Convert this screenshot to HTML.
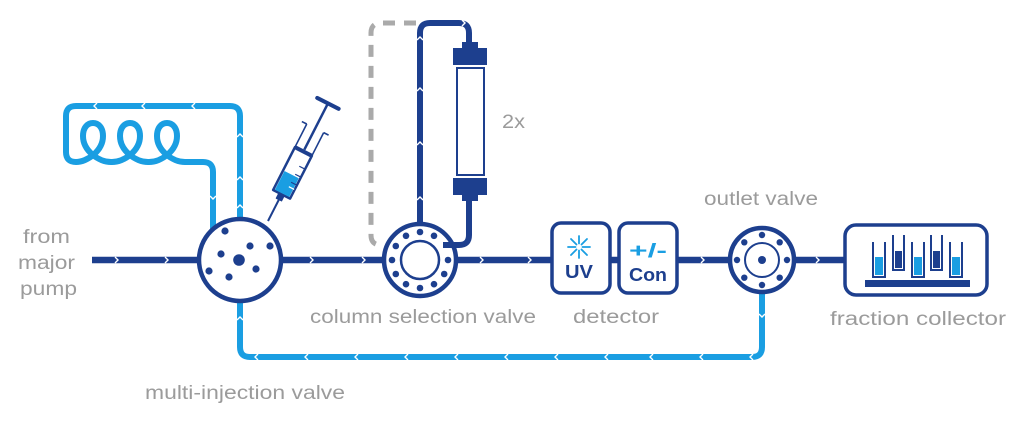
<!DOCTYPE html>
<html>
<head>
<meta charset="utf-8">
<style>
  html,body{margin:0;padding:0;background:#fff;}
  svg{display:block;}
  .lbl{font-family:"Liberation Sans",sans-serif;font-size:19px;fill:#9b9b9b;}
</style>
</head>
<body>
<svg width="1024" height="425" viewBox="0 0 1024 425" xmlns="http://www.w3.org/2000/svg">
  <rect width="1024" height="425" fill="#fff"/>

  <!-- light blue loop (sample loop) -->
  <g fill="none" stroke="#1a9ee2" stroke-width="6" stroke-linecap="round" stroke-linejoin="round">
    <path d="M240,222 V116 Q240,106 230,106 H76 Q66,106 66,116 V152 Q66,162 76,162
             C87,162 103,151 103,136 C103,127 98,123 93,123 C88,123 83,127 83,136 C83,151 99,162 111,162
             L112,162 C124,162 140,151 140,136 C140,127 135,123 130,123 C125,123 120,127 120,136 C120,151 136,162 148,162
             L149,162 C161,162 177,151 177,136 C177,127 172,123 167,123 C162,123 157,127 157,136 C157,151 173,162 185,162
             H203 Q213,162 213,172 V232"/>
    <!-- bottom return line -->
    <path d="M240,298 V347 Q240,357 250,357 H752 Q762,357 762,347 V290"/>
  </g>
  <!-- chevrons on light blue -->
  <g fill="none" stroke="#fff" stroke-width="1.4">
    <polyline points="97,103 94,106 97,109"/>
    <polyline points="145,103 142,106 145,109"/>
    <polyline points="195,103 192,106 195,109"/>
    <polyline points="237,137 240,134 243,137"/>
    <polyline points="237,180 240,177 243,180"/>
    <polyline points="237,208 240,205 243,208"/>
    <polyline points="210,196 213,199 216,196"/>
    <polyline points="237,320 240,317 243,320"/>
    <polyline points="759,314 762,317 765,314"/>
    <polyline points="258,354 255,357 258,360"/>
    <polyline points="308,354 305,357 308,360"/>
    <polyline points="358,354 355,357 358,360"/>
    <polyline points="408,354 405,357 408,360"/>
    <polyline points="458,354 455,357 458,360"/>
    <polyline points="508,354 505,357 508,360"/>
    <polyline points="558,354 555,357 558,360"/>
    <polyline points="608,354 605,357 608,360"/>
    <polyline points="653,354 650,357 653,360"/>
    <polyline points="703,354 700,357 703,360"/>
    <polyline points="753,354 750,357 753,360"/>
  </g>

  <!-- dashed gray alternative path -->
  <path d="M416,23 H381 Q371,23 371,33 V235 Q371,245 381,245" fill="none" stroke="#aaaaaa" stroke-width="5" stroke-dasharray="12 9"/>

  <!-- main dark line -->
  <line x1="92" y1="260" x2="845" y2="260" stroke="#1d3f8e" stroke-width="6.5"/>

  <!-- column path -->
  <g fill="none" stroke="#1d3f8e" stroke-width="6" stroke-linejoin="round">
    <path d="M420,225 V33 Q420,23 430,23 H459 Q469,23 469,33 V46"/>
  </g>
  <!-- column -->
  <g fill="#1d3f8e">
    <rect x="462" y="42" width="16" height="7"/>
    <rect x="453" y="48" width="34" height="17"/>
    <rect x="453" y="178" width="34" height="17"/>
    <rect x="462" y="194" width="16" height="7"/>
  </g>
  <rect x="457" y="68" width="27" height="107" fill="#fff" stroke="#1d3f8e" stroke-width="2"/>

  <!-- chevrons dark lines -->
  <g fill="none" stroke="#fff" stroke-width="1.4">
    <polyline points="115,257 118,260 115,263"/>
    <polyline points="165,257 168,260 165,263"/>
    <polyline points="310,257 313,260 310,263"/>
    <polyline points="362,257 365,260 362,263"/>
    <polyline points="480,257 483,260 480,263"/>
    <polyline points="528,257 531,260 528,263"/>
    <polyline points="701,257 704,260 701,263"/>
    <polyline points="816,257 819,260 816,263"/>
    <polyline points="417,40 420,37 423,40"/>
    <polyline points="417,91 420,88 423,91"/>
    <polyline points="417,145 420,142 423,145"/>
    <polyline points="417,200 420,197 423,200"/>
    <polyline points="462,20 465,23 462,26"/>
  </g>

  <!-- multi-injection valve -->
  <circle cx="240" cy="260" r="41" fill="#fff" stroke="#1d3f8e" stroke-width="4.5"/>
  <g fill="#1d3f8e">
    <circle cx="225" cy="231" r="3.6"/>
    <circle cx="250" cy="246" r="3.6"/>
    <circle cx="270" cy="246" r="3.6"/>
    <circle cx="221" cy="254" r="3.6"/>
    <circle cx="239" cy="260" r="5.8"/>
    <circle cx="209" cy="271" r="3.6"/>
    <circle cx="256" cy="269" r="3.6"/>
    <circle cx="229" cy="277" r="3.6"/>
  </g>

  <!-- syringe -->
  <g transform="translate(268,221) rotate(27)" stroke="#1d3f8e" fill="none" stroke-linejoin="round">
    <line x1="0" y1="0" x2="0" y2="-24" stroke-width="2"/>
    <rect x="-3" y="-30" width="6" height="6" fill="#1d3f8e" stroke-width="1"/>
    <rect x="-9.5" y="-78" width="19" height="48" fill="#fff" stroke-width="2.5"/>
    <rect x="-8" y="-52" width="16" height="21" fill="#1a9ee2" stroke="none"/>
    <line x1="3" y1="-45" x2="9" y2="-45" stroke-width="1.2"/>
    <line x1="3" y1="-54" x2="9" y2="-54" stroke-width="1.2"/>
    <line x1="3" y1="-63" x2="9" y2="-63" stroke-width="1.2"/>
    <line x1="3" y1="-40" x2="9" y2="-40" stroke-width="1.2" stroke="#fff"/>
    <rect x="-10" y="-80" width="20" height="4" fill="#1d3f8e" stroke="none"/>
    <line x1="-9.5" y1="-78" x2="-9.5" y2="-104" stroke-width="1.6"/>
    <line x1="9.5" y1="-78" x2="9.5" y2="-104" stroke-width="1.6"/>
    <line x1="-9.5" y1="-104" x2="-15" y2="-104" stroke-width="1.6"/>
    <line x1="9.5" y1="-104" x2="15" y2="-104" stroke-width="1.6"/>
    <line x1="0" y1="-80" x2="0" y2="-131" stroke-width="2.5"/>
    <line x1="-12" y1="-132" x2="12" y2="-132" stroke-width="4" stroke-linecap="round"/>
  </g>

  <!-- column selection valve -->
  <circle cx="420" cy="260" r="36" fill="#fff" stroke="#1d3f8e" stroke-width="4.5"/>
  <circle cx="420" cy="260" r="19" fill="#fff" stroke="#1d3f8e" stroke-width="2.5"/>
  <g fill="#1d3f8e">
    <circle cx="448" cy="260" r="3.3"/>
    <circle cx="444.2" cy="274" r="3.3"/>
    <circle cx="434" cy="284.2" r="3.3"/>
    <circle cx="420" cy="288" r="3.3"/>
    <circle cx="406" cy="284.2" r="3.3"/>
    <circle cx="395.8" cy="274" r="3.3"/>
    <circle cx="392" cy="260" r="3.3"/>
    <circle cx="395.8" cy="246" r="3.3"/>
    <circle cx="406" cy="235.8" r="3.3"/>
    <circle cx="420" cy="232" r="3.3"/>
    <circle cx="434" cy="235.8" r="3.3"/>
  </g>
  <path d="M469,200 V235 Q469,245 459,245 H443" fill="none" stroke="#1d3f8e" stroke-width="6"/>

  <!-- detector boxes -->
  <rect x="552" y="223" width="58" height="70" rx="9" fill="#fff" stroke="#1d3f8e" stroke-width="3.5"/>
  <rect x="619" y="223" width="58" height="70" rx="9" fill="#fff" stroke="#1d3f8e" stroke-width="3.5"/>
  <g stroke="#1a9ee2" stroke-width="1.8" stroke-linecap="round">
    <line x1="579" y1="243.5" x2="579" y2="236"/>
    <line x1="579" y1="250.5" x2="579" y2="258"/>
    <line x1="575.5" y1="247" x2="568" y2="247"/>
    <line x1="582.5" y1="247" x2="590" y2="247"/>
    <line x1="576.5" y1="244.5" x2="571" y2="239"/>
    <line x1="581.5" y1="244.5" x2="587" y2="239"/>
    <line x1="576.5" y1="249.5" x2="571" y2="255"/>
    <line x1="581.5" y1="249.5" x2="587" y2="255"/>
  </g>
  <text x="565" y="278" font-family="Liberation Sans, sans-serif" font-size="18" font-weight="bold" fill="#1d3f8e" textLength="28" lengthAdjust="spacingAndGlyphs">UV</text>
  <text x="629" y="257" font-family="Liberation Sans, sans-serif" font-size="19" font-weight="bold" fill="#1a9ee2" textLength="38" lengthAdjust="spacingAndGlyphs">+/-</text>
  <text x="629" y="281" font-family="Liberation Sans, sans-serif" font-size="18" font-weight="bold" fill="#1d3f8e" textLength="38" lengthAdjust="spacingAndGlyphs">Con</text>

  <!-- outlet valve -->
  <circle cx="762" cy="260" r="32" fill="#fff" stroke="#1d3f8e" stroke-width="4.5"/>
  <circle cx="762" cy="260" r="17" fill="#fff" stroke="#1d3f8e" stroke-width="2"/>
  <g fill="#1d3f8e">
    <circle cx="762" cy="260" r="4"/>
    <circle cx="787" cy="260" r="3.2"/>
    <circle cx="779.7" cy="277.7" r="3.2"/>
    <circle cx="762" cy="285" r="3.2"/>
    <circle cx="744.3" cy="277.7" r="3.2"/>
    <circle cx="737" cy="260" r="3.2"/>
    <circle cx="744.3" cy="242.3" r="3.2"/>
    <circle cx="762" cy="235" r="3.2"/>
    <circle cx="779.7" cy="242.3" r="3.2"/>
  </g>

  <!-- fraction collector -->
  <rect x="845" y="225" width="142" height="70" rx="11" fill="#fff" stroke="#1d3f8e" stroke-width="3.5"/>
  <rect x="865" y="280" width="105" height="7" fill="#1d3f8e"/>
  <g fill="#1a9ee2">
    <rect x="875" y="257" width="8" height="18"/>
    <rect x="914" y="257" width="8" height="18"/>
    <rect x="952" y="257" width="8" height="18"/>
  </g>
  <g fill="#1d3f8e">
    <rect x="895" y="251" width="7" height="17"/>
    <rect x="933" y="251" width="7" height="17"/>
  </g>
  <g fill="none" stroke="#1d3f8e" stroke-width="2">
    <path d="M873,242 V277 H885 V242"/>
    <path d="M893,235 V270 H904 V235"/>
    <path d="M912,242 V277 H924 V242"/>
    <path d="M931,235 V270 H942 V235"/>
    <path d="M950,242 V277 H962 V242"/>
  </g>

  <!-- labels -->
  <text class="lbl" x="23" y="243" textLength="47" lengthAdjust="spacingAndGlyphs">from</text>
  <text class="lbl" x="18" y="269" textLength="57" lengthAdjust="spacingAndGlyphs">major</text>
  <text class="lbl" x="20" y="295" textLength="57" lengthAdjust="spacingAndGlyphs">pump</text>
  <text class="lbl" x="502" y="128" textLength="23" lengthAdjust="spacingAndGlyphs">2x</text>
  <text class="lbl" x="704" y="205" textLength="114" lengthAdjust="spacingAndGlyphs">outlet valve</text>
  <text class="lbl" x="310" y="323" textLength="226" lengthAdjust="spacingAndGlyphs">column selection valve</text>
  <text class="lbl" x="573" y="323" textLength="86" lengthAdjust="spacingAndGlyphs">detector</text>
  <text class="lbl" x="830" y="325" textLength="176" lengthAdjust="spacingAndGlyphs">fraction collector</text>
  <text class="lbl" x="145" y="399" textLength="200" lengthAdjust="spacingAndGlyphs">multi-injection valve</text>
</svg>
</body>
</html>
